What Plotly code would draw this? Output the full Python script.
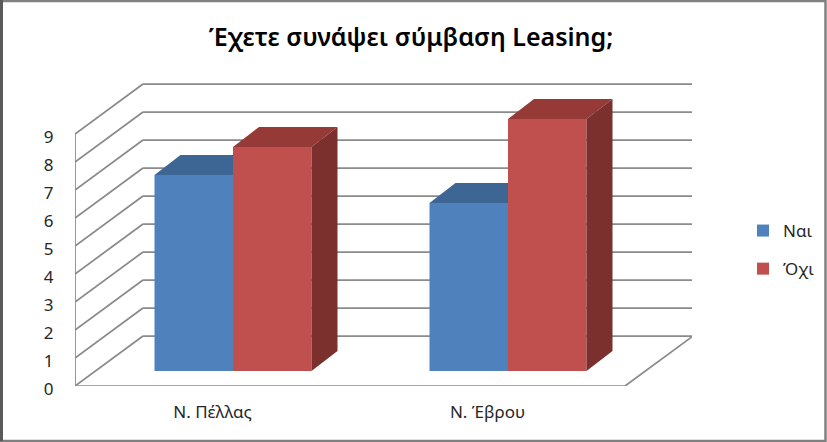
import plotly.graph_objects as go

FONT = "Noto Sans"
GRID_COLOR = "#8a8a8a"

categories = ["Ν. Πέλλας", "Ν. Έβρου"]
yes_values = [7, 6]
no_values = [8, 9]
series_names = ["Ναι", "Όχι"]
y_ticks = [0, 1, 2, 3, 4, 5, 6, 7, 8, 9]

# 3d look: everything is worked out from these pixel sizes
CAT_PX = 275
UNIT_PX = 28
WALL_DX = 68 / CAT_PX
WALL_DY = 50 / UNIT_PX
BAR_DX = 26 / CAT_PX
BAR_DY = 20 / UNIT_PX
BAR_WIDTH = 78.5 / CAT_PX
BAR_SHIFT = 20.5 / CAT_PX
BAR_BASE = 15 / UNIT_PX


def face(fig, xs, ys, color):
    fig.add_trace(go.Scatter(
        x=xs + xs[:1], y=ys + ys[:1], mode="lines", fill="toself", fillcolor=color,
        line=dict(width=0, color=color), showlegend=False, hoverinfo="skip"
    ))


def wall_line(fig, x0, y0, x1, y1):
    fig.add_shape(type="line", x0=x0, y0=y0, x1=x1, y1=y1, layer="below",
                  line=dict(color=GRID_COLOR, width=1.75))


fig = go.Figure()

positions = [i + BAR_SHIFT for i in range(len(categories))]

fig.add_trace(go.Bar(
    x=positions, y=yes_values, base=BAR_BASE, width=BAR_WIDTH, offset=-BAR_WIDTH,
    marker=dict(color="#4F81BD", line=dict(width=0)), name=series_names[0],
    legendgroup="yes"
))
fig.add_trace(go.Bar(
    x=positions, y=no_values, base=BAR_BASE, width=BAR_WIDTH, offset=0,
    marker=dict(color="#C0504D", line=dict(width=0)), name=series_names[1],
    legendgroup="no"
))

# Top and side faces
for pos, yes, no in zip(positions, yes_values, no_values):
    left = pos - BAR_WIDTH
    right = pos + BAR_WIDTH
    yes_top = yes + BAR_BASE
    no_top = no + BAR_BASE
    # blue top stops where the red bar starts
    face(fig, [left, pos, pos, left + BAR_DX],
         [yes_top, yes_top, yes_top + BAR_DY, yes_top + BAR_DY], "#3E6695")
    face(fig, [pos, right, right + BAR_DX, pos + BAR_DX],
         [no_top, no_top, no_top + BAR_DY, no_top + BAR_DY], "#953A37")
    face(fig, [right, right + BAR_DX, right + BAR_DX, right],
         [BAR_BASE, BAR_BASE + BAR_DY, no_top + BAR_DY, no_top], "#7B302E")

# Walls and floor
x_left = -0.5
x_right = x_left + len(categories)
x_back_right = x_right + WALL_DX
for tick in y_ticks:
    wall_line(fig, x_left, tick, x_left + WALL_DX, tick + WALL_DY)
    wall_line(fig, x_left + WALL_DX, tick + WALL_DY, x_back_right, tick + WALL_DY)
wall_line(fig, x_left, 0, x_left, y_ticks[-1])
wall_line(fig, x_left, 0, x_right, 0)
wall_line(fig, x_right, 0, x_back_right, WALL_DY)

# Chart frame, darker on the left like the source image
fig.add_shape(type="rect", xref="paper", yref="paper", x0=-74 / 617, x1=1 + 133.5 / 617,
              y0=-55 / 303, y1=1 + 82 / 303, line=dict(color="#808080", width=2.5), layer="below")
fig.add_shape(type="line", xref="paper", yref="paper", x0=-73.5 / 617, x1=-73.5 / 617,
              y0=-55 / 303, y1=1 + 83 / 303, line=dict(color="#5a5a5a", width=3), layer="below")

fig.update_layout(
    width=827,
    height=442,
    margin=dict(l=75, r=135, t=83, b=56, pad=0),
    paper_bgcolor="white",
    plot_bgcolor="white",
    font=dict(family=FONT, size=17, color="#262626"),
    title=dict(text="Έχετε συνάψει σύμβαση Leasing;", x=411 / 827, xanchor="center",
               y=1 - 37 / 442, yanchor="middle",
               font=dict(family=FONT, size=25, color="black", weight=600)),
    legend=dict(x=743 / 827, xref="container", xanchor="left", y=1 - 213 / 442, yanchor="top",
                yref="container", tracegroupgap=13, font=dict(size=17), traceorder="grouped"),
    xaxis=dict(range=[x_left, x_left + 617 / CAT_PX], tickvals=list(range(len(categories))),
               ticktext=categories, showgrid=False, zeroline=False, showline=False,
               ticks="outside", ticklen=11, tickcolor="rgba(0,0,0,0)"),
    yaxis=dict(range=[0, 303 / UNIT_PX], tickvals=y_ticks, showgrid=False, zeroline=False,
               showline=False, ticks="outside", ticklen=17, tickcolor="rgba(0,0,0,0)",
               ticklabelshift=3),
)

fig.write_html("out.html", config={"displayModeBar": False},
               post_script="document.body.style.margin='0';")
